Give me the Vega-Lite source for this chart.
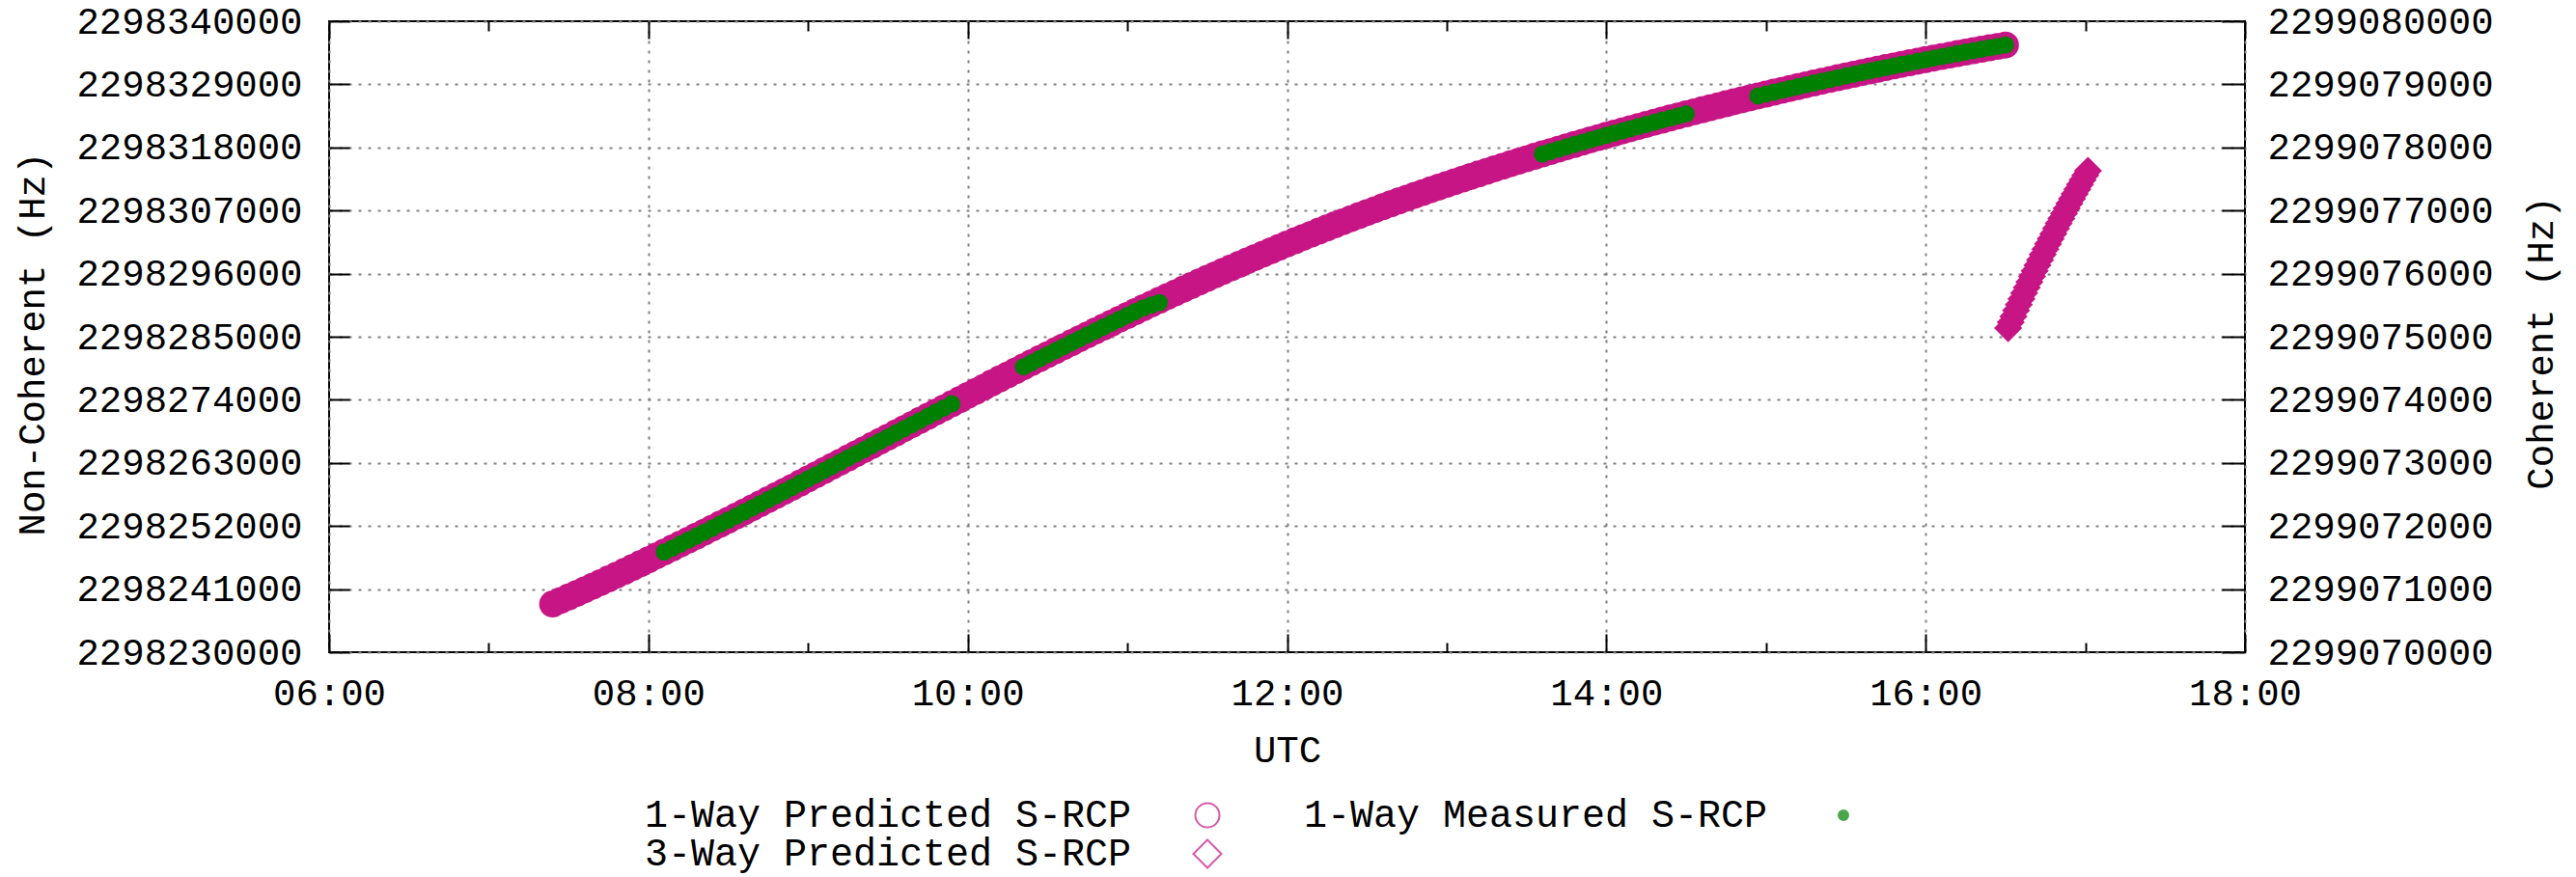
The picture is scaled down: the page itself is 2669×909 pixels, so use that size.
{
  "$schema": "https://vega.github.io/schema/vega-lite/v6.json",
  "width": 1985,
  "height": 654,
  "autosize": {"type": "none"},
  "padding": {"left": 341, "top": 22, "right": 343, "bottom": 233},
  "background": "white",
  "datasets": {
    "p1": [
      {"t":"07:24","f":2298238400},{"t":"07:27","f":2298239006},{"t":"07:30","f":2298239618},{"t":"07:33","f":2298240236},{"t":"07:36","f":2298240861},{"t":"07:39","f":2298241492},{"t":"07:42","f":2298242130},{"t":"07:45","f":2298242774},{"t":"07:48","f":2298243425},{"t":"07:51","f":2298244082},{"t":"07:54","f":2298244746},{"t":"07:57","f":2298245417},
      {"t":"08:00","f":2298246100},{"t":"08:03","f":2298246781},{"t":"08:06","f":2298247465},{"t":"08:09","f":2298248151},{"t":"08:12","f":2298248840},{"t":"08:15","f":2298249531},{"t":"08:18","f":2298250225},{"t":"08:21","f":2298250921},{"t":"08:24","f":2298251620},{"t":"08:27","f":2298252321},{"t":"08:30","f":2298253025},{"t":"08:33","f":2298253731},{"t":"08:36","f":2298254440},{"t":"08:39","f":2298255151},{"t":"08:42","f":2298255865},{"t":"08:45","f":2298256581},{"t":"08:48","f":2298257300},{"t":"08:51","f":2298258021},{"t":"08:54","f":2298258745},{"t":"08:57","f":2298259471},
      {"t":"09:00","f":2298260200},{"t":"09:03","f":2298260930},{"t":"09:06","f":2298261659},{"t":"09:09","f":2298262389},{"t":"09:12","f":2298263118},{"t":"09:15","f":2298263847},{"t":"09:18","f":2298264575},{"t":"09:21","f":2298265304},{"t":"09:24","f":2298266032},{"t":"09:27","f":2298266760},{"t":"09:30","f":2298267487},{"t":"09:33","f":2298268215},{"t":"09:36","f":2298268942},{"t":"09:39","f":2298269669},{"t":"09:42","f":2298270395},{"t":"09:45","f":2298271122},{"t":"09:48","f":2298271848},{"t":"09:51","f":2298272574},{"t":"09:54","f":2298273299},{"t":"09:57","f":2298274025},
      {"t":"10:00","f":2298274750},{"t":"10:03","f":2298275474},{"t":"10:06","f":2298276195},{"t":"10:09","f":2298276913},{"t":"10:12","f":2298277628},{"t":"10:15","f":2298278341},{"t":"10:18","f":2298279050},{"t":"10:21","f":2298279758},{"t":"10:24","f":2298280462},{"t":"10:27","f":2298281164},{"t":"10:30","f":2298281862},{"t":"10:33","f":2298282559},{"t":"10:36","f":2298283252},{"t":"10:39","f":2298283943},{"t":"10:42","f":2298284630},{"t":"10:45","f":2298285316},{"t":"10:48","f":2298285998},{"t":"10:51","f":2298286678},{"t":"10:54","f":2298287354},{"t":"10:57","f":2298288029},
      {"t":"11:00","f":2298288700},{"t":"11:03","f":2298289368},{"t":"11:06","f":2298290031},{"t":"11:09","f":2298290689},{"t":"11:12","f":2298291342},{"t":"11:15","f":2298291991},{"t":"11:18","f":2298292634},{"t":"11:21","f":2298293274},{"t":"11:24","f":2298293908},{"t":"11:27","f":2298294538},{"t":"11:30","f":2298295162},{"t":"11:33","f":2298295783},{"t":"11:36","f":2298296398},{"t":"11:39","f":2298297009},{"t":"11:42","f":2298297614},{"t":"11:45","f":2298298216},{"t":"11:48","f":2298298812},{"t":"11:51","f":2298299404},{"t":"11:54","f":2298299990},{"t":"11:57","f":2298300573},
      {"t":"12:00","f":2298301150},{"t":"12:03","f":2298301722},{"t":"12:06","f":2298302289},{"t":"12:09","f":2298302850},{"t":"12:12","f":2298303406},{"t":"12:15","f":2298303956},{"t":"12:18","f":2298304501},{"t":"12:21","f":2298305040},{"t":"12:24","f":2298305574},{"t":"12:27","f":2298306102},{"t":"12:30","f":2298306625},{"t":"12:33","f":2298307142},{"t":"12:36","f":2298307654},{"t":"12:39","f":2298308160},{"t":"12:42","f":2298308661},{"t":"12:45","f":2298309156},{"t":"12:48","f":2298309646},{"t":"12:51","f":2298310130},{"t":"12:54","f":2298310609},{"t":"12:57","f":2298311082},
      {"t":"13:00","f":2298311550},{"t":"13:03","f":2298312013},{"t":"13:06","f":2298312473},{"t":"13:09","f":2298312928},{"t":"13:12","f":2298313380},{"t":"13:15","f":2298313828},{"t":"13:18","f":2298314273},{"t":"13:21","f":2298314713},{"t":"13:24","f":2298315150},{"t":"13:27","f":2298315583},{"t":"13:30","f":2298316013},{"t":"13:33","f":2298316438},{"t":"13:36","f":2298316860},{"t":"13:39","f":2298317278},{"t":"13:42","f":2298317693},{"t":"13:45","f":2298318103},{"t":"13:48","f":2298318510},{"t":"13:51","f":2298318913},{"t":"13:54","f":2298319313},{"t":"13:57","f":2298319708},
      {"t":"14:00","f":2298320100},{"t":"14:03","f":2298320489},{"t":"14:06","f":2298320874},{"t":"14:09","f":2298321257},{"t":"14:12","f":2298321636},{"t":"14:15","f":2298322013},{"t":"14:18","f":2298322386},{"t":"14:21","f":2298322757},{"t":"14:24","f":2298323124},{"t":"14:27","f":2298323489},{"t":"14:30","f":2298323850},{"t":"14:33","f":2298324209},{"t":"14:36","f":2298324564},{"t":"14:39","f":2298324917},{"t":"14:42","f":2298325266},{"t":"14:45","f":2298325613},{"t":"14:48","f":2298325956},{"t":"14:51","f":2298326297},{"t":"14:54","f":2298326634},{"t":"14:57","f":2298326969},
      {"t":"15:00","f":2298327300},{"t":"15:03","f":2298327629},{"t":"15:06","f":2298327954},{"t":"15:09","f":2298328277},{"t":"15:12","f":2298328596},{"t":"15:15","f":2298328913},{"t":"15:18","f":2298329226},{"t":"15:21","f":2298329537},{"t":"15:24","f":2298329844},{"t":"15:27","f":2298330149},{"t":"15:30","f":2298330450},{"t":"15:33","f":2298330749},{"t":"15:36","f":2298331044},{"t":"15:39","f":2298331337},{"t":"15:42","f":2298331626},{"t":"15:45","f":2298331913},{"t":"15:48","f":2298332196},{"t":"15:51","f":2298332477},{"t":"15:54","f":2298332754},{"t":"15:57","f":2298333029},
      {"t":"16:00","f":2298333300},{"t":"16:03","f":2298333569},{"t":"16:06","f":2298333834},{"t":"16:09","f":2298334097},{"t":"16:12","f":2298334356},{"t":"16:15","f":2298334613},{"t":"16:18","f":2298334866},{"t":"16:21","f":2298335117},{"t":"16:24","f":2298335364},{"t":"16:27","f":2298335609},{"t":"16:30","f":2298335850}
    ],
    "m1": [
      {"t":"08:06","f":2298247465},{"t":"08:09","f":2298248151},{"t":"08:12","f":2298248840},{"t":"08:15","f":2298249531},{"t":"08:18","f":2298250225},{"t":"08:21","f":2298250921},{"t":"08:24","f":2298251620},{"t":"08:27","f":2298252321},{"t":"08:30","f":2298253025},{"t":"08:33","f":2298253731},{"t":"08:36","f":2298254440},{"t":"08:39","f":2298255151},{"t":"08:42","f":2298255865},{"t":"08:45","f":2298256581},{"t":"08:48","f":2298257300},{"t":"08:51","f":2298258021},{"t":"08:54","f":2298258745},{"t":"08:57","f":2298259471},
      {"t":"09:00","f":2298260200},{"t":"09:03","f":2298260930},{"t":"09:06","f":2298261659},{"t":"09:09","f":2298262389},{"t":"09:12","f":2298263118},{"t":"09:15","f":2298263847},{"t":"09:18","f":2298264575},{"t":"09:21","f":2298265304},{"t":"09:24","f":2298266032},{"t":"09:27","f":2298266760},{"t":"09:30","f":2298267487},{"t":"09:33","f":2298268215},{"t":"09:36","f":2298268942},{"t":"09:39","f":2298269669},{"t":"09:42","f":2298270395},{"t":"09:45","f":2298271122},{"t":"09:48","f":2298271848},{"t":"09:51","f":2298272574},{"t":"09:54","f":2298273299},
      {"t":"10:21","f":2298279758},{"t":"10:24","f":2298280462},{"t":"10:27","f":2298281164},{"t":"10:30","f":2298281862},{"t":"10:33","f":2298282559},{"t":"10:36","f":2298283252},{"t":"10:39","f":2298283943},{"t":"10:42","f":2298284630},{"t":"10:45","f":2298285316},{"t":"10:48","f":2298285998},{"t":"10:51","f":2298286678},{"t":"10:54","f":2298287354},{"t":"10:57","f":2298288029},{"t":"11:00","f":2298288700},{"t":"11:03","f":2298289368},{"t":"11:06","f":2298290031},{"t":"11:09","f":2298290500},{"t":"11:12","f":2298290950},
      {"t":"13:36","f":2298316860},{"t":"13:39","f":2298317278},{"t":"13:42","f":2298317693},{"t":"13:45","f":2298318103},{"t":"13:48","f":2298318510},{"t":"13:51","f":2298318913},{"t":"13:54","f":2298319313},{"t":"13:57","f":2298319708},{"t":"14:00","f":2298320100},{"t":"14:03","f":2298320489},{"t":"14:06","f":2298320874},{"t":"14:09","f":2298321257},{"t":"14:12","f":2298321636},{"t":"14:15","f":2298322013},{"t":"14:18","f":2298322386},{"t":"14:21","f":2298322757},{"t":"14:24","f":2298323124},{"t":"14:27","f":2298323489},{"t":"14:30","f":2298323850},
      {"t":"14:57","f":2298326969},{"t":"15:00","f":2298327300},{"t":"15:03","f":2298327629},{"t":"15:06","f":2298327954},{"t":"15:09","f":2298328277},{"t":"15:12","f":2298328596},{"t":"15:15","f":2298328913},{"t":"15:18","f":2298329226},{"t":"15:21","f":2298329537},{"t":"15:24","f":2298329844},{"t":"15:27","f":2298330149},{"t":"15:30","f":2298330450},{"t":"15:33","f":2298330749},{"t":"15:36","f":2298331044},{"t":"15:39","f":2298331337},{"t":"15:42","f":2298331626},{"t":"15:45","f":2298331913},{"t":"15:48","f":2298332196},{"t":"15:51","f":2298332477},{"t":"15:54","f":2298332754},{"t":"15:57","f":2298333029},{"t":"16:00","f":2298333300},{"t":"16:03","f":2298333569},{"t":"16:06","f":2298333834},{"t":"16:09","f":2298334097},{"t":"16:12","f":2298334356},{"t":"16:15","f":2298334613},{"t":"16:18","f":2298334866},{"t":"16:21","f":2298335117},{"t":"16:24","f":2298335364},{"t":"16:27","f":2298335609},{"t":"16:30","f":2298335850}
    ],
    "p3": [
      {"t":"16:31","f":2299075136},{"t":"16:32","f":2299075230},{"t":"16:33","f":2299075323},{"t":"16:34","f":2299075416},{"t":"16:35","f":2299075508},{"t":"16:36","f":2299075600},{"t":"16:37","f":2299075690},{"t":"16:38","f":2299075780},{"t":"16:39","f":2299075869},{"t":"16:40","f":2299075957},{"t":"16:41","f":2299076044},{"t":"16:42","f":2299076131},{"t":"16:43","f":2299076217},{"t":"16:44","f":2299076302},{"t":"16:45","f":2299076386},{"t":"16:46","f":2299076470},{"t":"16:47","f":2299076552},{"t":"16:48","f":2299076634},{"t":"16:49","f":2299076715},{"t":"16:50","f":2299076796},{"t":"16:51","f":2299076875},{"t":"16:52","f":2299076954},{"t":"16:53","f":2299077032},{"t":"16:54","f":2299077109},{"t":"16:55","f":2299077186},{"t":"16:56","f":2299077262},{"t":"16:57","f":2299077337},{"t":"16:58","f":2299077411},{"t":"16:59","f":2299077484},{"t":"17:00","f":2299077557},{"t":"17:01","f":2299077629}
    ]
  },
  "layer": [
    {
      "data": {"name": "p1", "format": {"parse": {"t": "utc:'%H:%M'"}}},
      "mark": {"type": "point", "filled": true, "color": "#C71585", "size": 780, "opacity": 1, "shape": "circle"},
      "encoding": {
        "x": {
          "field": "t", "type": "temporal",
          "scale": {"type": "utc", "nice": false, "domain": [
            {"year": 1900, "month": 1, "date": 1, "hours": 6, "utc": true},
            {"year": 1900, "month": 1, "date": 1, "hours": 18, "utc": true}]},
          "axis": {
            "orient": "bottom",
            "values": [
              {"year": 1900, "month": 1, "date": 1, "hours": 6, "utc": true},
              {"year": 1900, "month": 1, "date": 1, "hours": 8, "utc": true},
              {"year": 1900, "month": 1, "date": 1, "hours": 10, "utc": true},
              {"year": 1900, "month": 1, "date": 1, "hours": 12, "utc": true},
              {"year": 1900, "month": 1, "date": 1, "hours": 14, "utc": true},
              {"year": 1900, "month": 1, "date": 1, "hours": 16, "utc": true},
              {"year": 1900, "month": 1, "date": 1, "hours": 18, "utc": true}],
            "format": "%H:%M",
            "tickSize": -19,
            "labelPadding": 61,
            "labelBaseline": "middle",
            "grid": true,
            "title": "UTC",
            "titleY": 101,
            "titleBaseline": "middle"
          }
        },
        "y": {
          "field": "f", "type": "quantitative",
          "scale": {"domain": [2298230000, 2298340000], "zero": false, "nice": false},
          "axis": {
            "orient": "left",
            "values": [2298230000, 2298241000, 2298252000, 2298263000, 2298274000, 2298285000, 2298296000, 2298307000, 2298318000, 2298329000, 2298340000],
            "format": "d",
            "tickSize": -21,
            "labelPadding": 49,
            "grid": true,
            "title": "Non-Coherent (Hz)",
            "titleAngle": -90,
            "titleX": -308,
            "titleY": 334,
            "titleBaseline": "middle",
            "titleAlign": "center"
          }
        }
      }
    },
    {
      "data": {"name": "m1", "format": {"parse": {"t": "utc:'%H:%M'"}}},
      "mark": {"type": "point", "filled": true, "color": "#008000", "size": 320, "opacity": 1, "shape": "circle"},
      "encoding": {
        "x": {
          "field": "t", "type": "temporal",
          "axis": {
            "orient": "bottom",
            "values": [
              {"year": 1900, "month": 1, "date": 1, "hours": 7, "utc": true},
              {"year": 1900, "month": 1, "date": 1, "hours": 9, "utc": true},
              {"year": 1900, "month": 1, "date": 1, "hours": 11, "utc": true},
              {"year": 1900, "month": 1, "date": 1, "hours": 13, "utc": true},
              {"year": 1900, "month": 1, "date": 1, "hours": 15, "utc": true},
              {"year": 1900, "month": 1, "date": 1, "hours": 17, "utc": true}],
            "tickSize": -10,
            "labels": false,
            "grid": false,
            "title": null
          }
        },
        "y": {
          "field": "f", "type": "quantitative",
          "scale": {"domain": [2298230000, 2298340000], "zero": false, "nice": false},
          "axis": null
        }
      }
    },
    {
      "data": {"name": "p3", "format": {"parse": {"t": "utc:'%H:%M'"}}},
      "mark": {"type": "point", "filled": true, "color": "#C71585", "size": 850, "opacity": 1, "shape": "diamond"},
      "encoding": {
        "x": {
          "field": "t", "type": "temporal",
          "axis": {
            "orient": "top",
            "values": [
              {"year": 1900, "month": 1, "date": 1, "hours": 6, "utc": true},
              {"year": 1900, "month": 1, "date": 1, "hours": 8, "utc": true},
              {"year": 1900, "month": 1, "date": 1, "hours": 10, "utc": true},
              {"year": 1900, "month": 1, "date": 1, "hours": 12, "utc": true},
              {"year": 1900, "month": 1, "date": 1, "hours": 14, "utc": true},
              {"year": 1900, "month": 1, "date": 1, "hours": 16, "utc": true},
              {"year": 1900, "month": 1, "date": 1, "hours": 18, "utc": true}],
            "tickSize": -18,
            "labels": false,
            "grid": false,
            "title": null
          }
        },
        "y": {
          "field": "f", "type": "quantitative",
          "scale": {"domain": [2299070000, 2299080000], "zero": false, "nice": false},
          "axis": {
            "orient": "right",
            "values": [2299070000, 2299071000, 2299072000, 2299073000, 2299074000, 2299075000, 2299076000, 2299077000, 2299078000, 2299079000, 2299080000],
            "format": "d",
            "tickSize": -24,
            "labelPadding": 47,
            "grid": false,
            "title": "Coherent (Hz)",
            "titleAngle": -90,
            "titleX": 306,
            "titleY": 333,
            "titleBaseline": "middle",
            "titleAlign": "center"
          }
        }
      }
    },
    {
      "data": {"values": []},
      "mark": {"type": "point", "filled": false, "strokeWidth": 2},
      "encoding": {
        "x": {
          "field": "t", "type": "temporal",
          "axis": {
            "orient": "top",
            "values": [
              {"year": 1900, "month": 1, "date": 1, "hours": 7, "utc": true},
              {"year": 1900, "month": 1, "date": 1, "hours": 9, "utc": true},
              {"year": 1900, "month": 1, "date": 1, "hours": 11, "utc": true},
              {"year": 1900, "month": 1, "date": 1, "hours": 13, "utc": true},
              {"year": 1900, "month": 1, "date": 1, "hours": 15, "utc": true},
              {"year": 1900, "month": 1, "date": 1, "hours": 17, "utc": true}],
            "tickSize": -10,
            "labels": false,
            "grid": false,
            "title": null
          }
        },
        "y": {
          "field": "f", "type": "quantitative",
          "scale": {"domain": [2298230000, 2298340000], "zero": false, "nice": false},
          "axis": null
        },
        "stroke": {
          "datum": "1-Way Predicted S-RCP",
          "scale": {"domain": ["1-Way Predicted S-RCP", "1-Way Measured S-RCP", "3-Way Predicted S-RCP"], "range": ["#C71585", "#008000", "#C71585"]},
          "legend": {
            "orient": "none",
            "legendX": 890,
            "legendY": 803,
            "columns": 2,
            "direction": "horizontal",
            "title": null,
            "padding": 0,
            "labelFont": "Liberation Mono",
            "labelFontSize": 40,
            "labelColor": "#000",
            "labelLimit": 2000,
            "labelAlign": "right",
            "labelBaseline": "middle",
            "labelOffset": -99,
            "columnPadding": 80,
            "rowPadding": 0,
            "symbolStrokeWidth": 2
          }
        },
        "fill": {
          "datum": "1-Way Predicted S-RCP",
          "scale": {"domain": ["1-Way Predicted S-RCP", "1-Way Measured S-RCP", "3-Way Predicted S-RCP"], "range": ["transparent", "#008000", "transparent"]}
        },
        "shape": {
          "datum": "1-Way Predicted S-RCP",
          "scale": {"domain": ["1-Way Predicted S-RCP", "1-Way Measured S-RCP", "3-Way Predicted S-RCP"], "range": ["circle", "circle", "diamond"]}
        },
        "size": {
          "datum": "1-Way Predicted S-RCP",
          "scale": {"type": "ordinal", "domain": ["1-Way Predicted S-RCP", "1-Way Measured S-RCP", "3-Way Predicted S-RCP"], "range": [625, 100, 840]}
        }
      }
    }
  ],
  "resolve": {
    "scale": {"y": "independent"},
    "axis": {"x": "independent", "y": "independent"}
  },
  "config": {
    "view": {"stroke": "#000", "strokeWidth": 2},
    "axis": {
      "labelFont": "Liberation Mono",
      "labelFontSize": 39,
      "labelColor": "#000",
      "labelLimit": 1000,
      "titleFont": "Liberation Mono",
      "titleFontSize": 39,
      "titleFontWeight": "normal",
      "titleColor": "#000",
      "tickColor": "#000",
      "tickWidth": 2,
      "domain": false,
      "gridColor": "#808080",
      "gridDash": [3, 7],
      "gridWidth": 2,
      "gridOpacity": 1,
      "labelFlush": false,
      "labelOverlap": false,
      "labelBound": false
    }
  }
}
